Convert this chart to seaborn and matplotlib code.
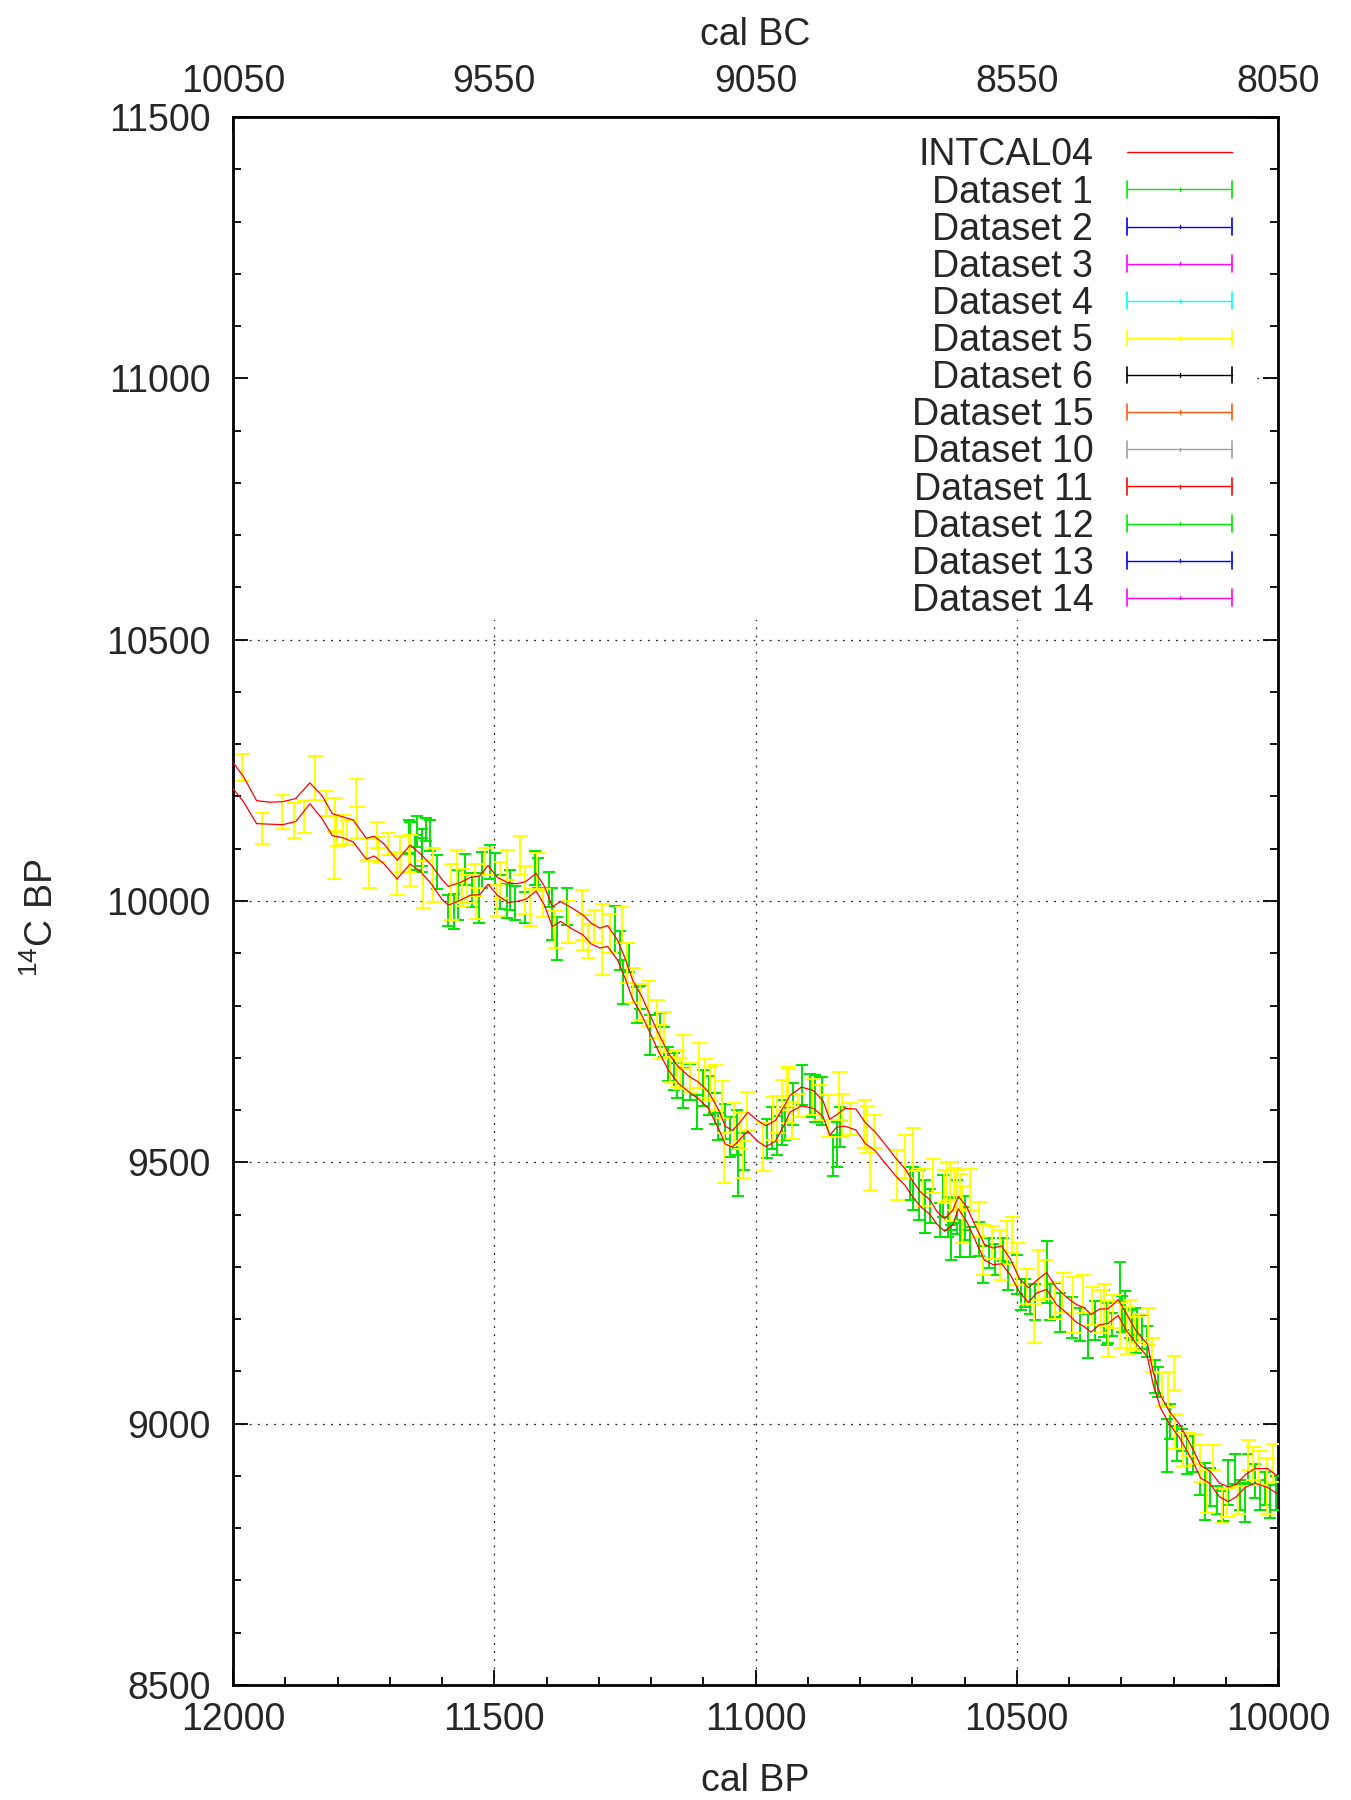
import numpy as np
import matplotlib
matplotlib.use("Agg")
import matplotlib.pyplot as plt
import seaborn as sns
from matplotlib.lines import Line2D
from matplotlib.legend_handler import HandlerBase
from matplotlib.patches import Rectangle
from matplotlib.ticker import MultipleLocator, FixedLocator, FormatStrFormatter

# ---------------- data ----------------
intcal_bp = [12000, 11980, 11955, 11930, 11905, 11880, 11853, 11830, 11810, 11790,
             11770, 11745, 11730, 11712, 11686, 11661, 11640, 11620, 11600, 11588,
             11566, 11546, 11528, 11512, 11494, 11474, 11458, 11440, 11420, 11404,
             11389, 11373, 11352, 11330, 11315, 11298, 11283, 11264, 11250, 11235,
             11218, 11202, 11186, 11167, 11148, 11128, 11110, 11090, 11071, 11058,
             11044, 11030, 11015, 10996, 10980, 10962, 10945, 10934, 10912, 10889,
             10871, 10858, 10845, 10829, 10808, 10790, 10771, 10750, 10731, 10714,
             10700, 10685, 10666, 10653, 10638, 10622, 10612, 10596, 10580, 10562,
             10545, 10529, 10512, 10495, 10478, 10462, 10443, 10424, 10405, 10386,
             10370, 10358, 10342, 10325, 10306, 10290, 10272, 10250, 10239, 10225,
             10207, 10188, 10165, 10148, 10130, 10112, 10095, 10080, 10063, 10044,
             10020, 10000]
intcal_c14 = [10240, 10214, 10170, 10168, 10168, 10174, 10206, 10180, 10146, 10141,
              10134, 10100, 10105, 10091, 10060, 10089, 10072, 10050, 10022, 10010,
              10018, 10028, 10030, 10050, 10028, 10016, 10016, 10020, 10036, 10010,
              9970, 9980, 9967, 9954, 9938, 9929, 9933, 9906, 9872, 9830,
              9800, 9765, 9730, 9693, 9667, 9650, 9638, 9619, 9583, 9552,
              9545, 9560, 9578, 9560, 9550, 9560, 9590, 9612, 9626, 9620,
              9603, 9567, 9579, 9586, 9582, 9556, 9540, 9514, 9490, 9472,
              9450, 9430, 9414, 9394, 9380, 9395, 9423, 9401, 9366, 9328,
              9320, 9323, 9299, 9265, 9246, 9262, 9273, 9244, 9227, 9211,
              9203, 9192, 9204, 9206, 9222, 9194, 9166, 9140, 9087, 9042,
              9010, 8985, 8943, 8908, 8897, 8873, 8865, 8872, 8890, 8900,
              8896, 8882]
intcal_err = [25, 24, 22, 21, 22, 22, 20, 22, 21, 20,
              21, 20, 19, 19, 18, 18, 17, 18, 19, 18,
              17, 17, 18, 18, 17, 19, 17, 17, 17, 18,
              19, 19, 20, 19, 20, 19, 20, 19, 19, 18,
              18, 17, 17, 16, 16, 15, 16, 16, 18, 17,
              16, 16, 18, 20, 20, 20, 18, 16, 18, 17,
              15, 15, 12, 17, 20, 20, 18, 18, 17, 16,
              15, 14, 14, 12, 12, 14, 12, 14, 14, 15,
              16, 17, 15, 13, 14, 12, 16, 16, 15, 17,
              18, 17, 15, 14, 15, 16, 12, 12, 12, 12,
              12, 13, 12, 12, 12, 13, 14, 12, 12, 14,
              18, 17]

ds1_bp = [11661, 11648, 11639, 11630, 11664, 11652, 11639, 11623, 11610, 11588,
          11578, 11569, 11556, 11543, 11530, 11524, 11508, 11499, 11489, 11476,
          11470, 11460, 11441, 11422, 11416, 11396, 11390, 11380, 11360,
          11269, 11259, 11253, 11243, 11227, 11221, 11202, 11183, 11176, 11167,
          11157, 11151, 11138, 11125, 11113, 11100, 11090, 11077, 11071, 11058,
          11049, 11036, 11033, 11023, 10978, 10969, 10950,
          10959, 10944, 10928, 10912, 10896, 10886, 10873, 10851, 10845, 10838,
          10704, 10698, 10688, 10675, 10666, 10647, 10628, 10615, 10599,
          10641, 10631, 10625, 10615, 10609, 10599, 10590, 10573, 10564, 10554,
          10541, 10526, 10516, 10500, 10491, 10484, 10475, 10465, 10443, 10436,
          10427, 10417, 10395, 10379, 10363, 10350, 10328, 10318, 10302, 10299,
          10280, 10271,
          10334, 10325, 10293, 10283, 10270, 10261, 10251, 10235, 10229, 10213,
          10207, 10194, 10184, 10175, 10162, 10149, 10140, 10130, 10117, 10105,
          10095, 10082, 10073, 10063, 10057, 10044, 10034, 10025, 10015, 10003]
ds1_c14 = [10122, 10133, 10102, 10137, 10122, 10093, 10088, 10125, 10055, 9982,
           9980, 10012, 10060, 10021, 10005, 10059, 10075, 10061, 10017, 10000,
           10021, 9996, 9988, 10063, 10053, 10022, 9975, 9929, 9990,
           9945, 9905, 9845, 9892, 9801, 9816, 9744, 9753, 9730, 9688,
           9674, 9657, 9642, 9654, 9596, 9642, 9628, 9603, 9568, 9578,
           9549, 9557, 9481, 9521, 9545, 9566, 9576,
           9551, 9574, 9612, 9648, 9628, 9623, 9618, 9513, 9535, 9568,
           9460, 9450, 9438, 9415, 9416, 9390, 9402, 9397, 9383,
           9436, 9396, 9347, 9425, 9354, 9403, 9348, 9353, 9304, 9327,
           9314, 9333, 9281, 9286, 9247, 9250, 9238, 9233, 9290, 9233,
           9237, 9213, 9203, 9190, 9167, 9197, 9190, 9189, 9270, 9210,
           9190, 9172,
           9210, 9195, 9216, 9190, 9195, 9175, 9157, 9090, 9080, 8958,
           9004, 8962, 8969, 8940, 8944, 8893, 8870, 8879, 8854, 8842,
           8888, 8913, 8863, 8849, 8913, 8890, 8863, 8876, 8851, 8867]
ds1_err = [30, 30, 35, 22, 33, 33, 32, 30, 33, 30,
           33, 48, 30, 33, 48, 35, 32, 30, 33, 32,
           38, 32, 30, 32, 29, 33, 49, 41, 35,
           45, 37, 43, 27, 35, 22, 38, 32, 29, 33,
           35, 33, 38, 35, 33, 35, 37, 29, 26, 33,
           38, 43, 46, 35, 37, 40, 43,
           37, 32, 40, 38, 41, 45, 46, 39, 43, 38,
           32, 41, 48, 51, 32, 32, 32, 35, 32,
           40, 38, 33, 41, 35, 33, 29, 33, 35, 29,
           30, 22, 26, 37, 29, 27, 29, 35, 60, 35,
           32, 37, 40, 32, 42, 37, 40, 22, 40, 35,
           29, 37,
           45, 40, 37, 27, 26, 33, 30, 32, 29, 50,
           33, 33, 21, 37, 37, 30, 55, 37, 26, 29,
           43, 29, 29, 37, 29, 32, 29, 32, 32, 32]

ds5_bp = [11983, 11944, 11907, 11884, 11864, 11843, 11823, 11805, 11802, 11806,
          11789, 11782, 11765, 11763, 11744, 11739, 11725, 11722, 11703, 11687,
          11680, 11661, 11636,
          11664, 11617, 11582, 11572, 11562, 11553, 11537, 11535, 11518, 11495,
          11489, 11476, 11451, 11441, 11432, 11419, 11406, 11384, 11359, 11333,
          11330, 11320,
          11310, 11294, 11278, 11256, 11246, 11234, 11221, 11205, 11189, 11183,
          11176, 11164, 11151, 11144, 11138, 11125, 11109, 11097, 11087, 11077,
          11065, 11061, 11042, 11030, 11024, 11017, 10985, 10959, 10940,
          10966, 10950, 10937, 10931, 10918, 10892, 10876, 10861, 10841, 10835,
          10819, 10793, 10787, 10781, 10774, 10730, 10714, 10698, 10679, 10660,
          10640, 10628, 10615, 10605,
          10634, 10621, 10609, 10590, 10573, 10564, 10548, 10532, 10519, 10510,
          10500, 10481, 10468, 10459, 10446, 10427, 10411, 10392, 10373, 10357,
          10338, 10325, 10315, 10290, 10274,
          10334, 10302, 10284, 10267, 10248, 10242, 10223, 10210, 10200, 10197,
          10181, 10172, 10159, 10149, 10136, 10124, 10108, 10098, 10076, 10057,
          10047, 10037, 10021, 10009]
ds5_c14 = [10256, 10139, 10170, 10154, 10161, 10235, 10187, 10165, 10133, 10088,
           10136, 10132, 10206, 10150, 10098, 10050, 10126, 10099, 10109, 10053,
           10090, 10077, 10031,
           10090, 10050, 10017, 10047, 10026, 10023, 10040, 9995, 10075, 10001,
           10040, 10069, 10087, 10021, 9988, 10056, 9996, 9945, 9960, 9973,
           9940, 9923,
           9951, 9927, 9938, 9954, 9881, 9838, 9807, 9803, 9774, 9730,
           9750, 9678, 9680, 9670, 9711, 9661, 9685, 9660, 9650, 9644,
           9620, 9508, 9574, 9560, 9505, 9597, 9529, 9591, 9645,
           9584, 9629, 9627, 9580, 9608, 9625, 9614, 9589, 9627, 9589,
           9583, 9573, 9563, 9487, 9559, 9476, 9511, 9524, 9452, 9474,
           9454, 9444, 9448, 9400,
           9463, 9449, 9443, 9447, 9391, 9332, 9347, 9323, 9346, 9361,
           9305, 9262, 9191, 9284, 9276, 9236, 9250, 9227, 9248, 9225,
           9214, 9181, 9215, 9179, 9172,
           9227, 9188, 9190, 9183, 9186, 9131, 9065, 9065, 9097, 8985,
           8951, 8960, 8951, 8924, 8870, 8936, 8843, 8849, 8854, 8940,
           8924, 8915, 8881, 8925]
ds5_err = [26, 30, 33, 34, 30, 42, 24, 33, 28, 45,
           29, 23, 27, 30, 20, 26, 25, 24, 21, 41,
           35, 49, 45,
           37, 51, 53, 51, 35, 27, 30, 30, 26, 30,
           35, 29, 37, 45, 35, 35, 27, 35, 40, 48,
           33, 33,
           32, 68, 38, 35, 38, 33, 35, 43, 37, 33,
           38, 24, 35, 30, 33, 29, 43, 37, 32, 43,
           35, 48, 40, 35, 35, 38, 46, 35, 38,
           41, 29, 52, 35, 22, 35, 33, 40, 46, 41,
           30, 46, 45, 40, 32, 48, 41, 41, 35, 33,
           32, 57, 37, 54,
           35, 40, 35, 41, 33, 48, 32, 48, 41, 35,
           40, 33, 37, 48, 38, 35, 38, 54, 37, 37,
           41, 53, 32, 45, 32,
           41, 43, 46, 26, 35, 33, 32, 33, 33, 33,
           32, 22, 29, 35, 41, 24, 33, 27, 27, 29,
           32, 33, 53, 37]

legend_labels = ["INTCAL04", "Dataset 1", "Dataset 2", "Dataset 3", "Dataset 4",
                 "Dataset 5", "Dataset 6", "Dataset 15", "Dataset 10", "Dataset 11",
                 "Dataset 12", "Dataset 13", "Dataset 14"]
legend_colors = ["#ff0000", "#00e600", "#0000ff", "#ff00ff", "#00ffff",
                 "#ffff00", "#000000", "#ff5a14", "#a0a0a0", "#ff0000",
                 "#00e600", "#0000ff", "#ff00ff"]

bottom_ticks = [12000, 11500, 11000, 10500, 10000]
top_ticks = [10050, 9550, 9050, 8550, 8050]
y_ticks = [8500, 9000, 9500, 10000, 10500, 11000, 11500]

# ---------------- style ----------------
sns.set_theme(style="ticks")
plt.rcParams['font.family'] = ['Liberation Sans', 'DejaVu Sans']
plt.rcParams['mathtext.fontset'] = 'custom'
plt.rcParams['mathtext.rm'] = 'Liberation Sans'
plt.rcParams['mathtext.it'] = 'Liberation Sans:italic'
plt.rcParams['mathtext.bf'] = 'Liberation Sans:bold'

FS = 27
GREEN = "#00e600"
YELLOW = "#ffff00"

fig = plt.figure(figsize=(13.51, 18), dpi=100)
fig.patch.set_facecolor("white")
rect = [0.1725, 0.0639, 0.7735, 0.8711]

# grid-only axes behind
gax = fig.add_axes(rect, zorder=0)
ax = fig.add_axes(rect, zorder=1, sharex=gax, sharey=gax)
ax.patch.set_visible(False)

ax.set_xlim(12000, 10000)
ax.set_ylim(8500, 11500)
ax.xaxis.set_major_locator(FixedLocator(bottom_ticks))
ax.xaxis.set_minor_locator(MultipleLocator(100))
ax.yaxis.set_major_locator(FixedLocator(y_ticks))
ax.yaxis.set_minor_locator(MultipleLocator(100))
ax.xaxis.set_major_formatter(FormatStrFormatter('%d'))
ax.yaxis.set_major_formatter(FormatStrFormatter('%d'))

gax.set_facecolor("white")
gax.grid(True, which='major', color='#222222', lw=0.9, ls=(0, (1.5, 5)))
gax.tick_params(which='both', length=0, labelbottom=False, labelleft=False)
for s in gax.spines.values():
    s.set_visible(False)

# white panel behind the key (hides grid there)
ax.add_patch(Rectangle((0, 0.6794), 0.978, 0.3206, transform=ax.transAxes,
                       facecolor='white', edgecolor='none', zorder=0.2))

# data
ax.errorbar(ds1_bp, ds1_c14, yerr=ds1_err, fmt='none', ecolor=GREEN,
            elinewidth=1.4, capsize=4.3, capthick=1.4, zorder=3)
ax.errorbar(ds5_bp, ds5_c14, yerr=ds5_err, fmt='none', ecolor=YELLOW,
            elinewidth=1.4, capsize=5.4, capthick=1.4, zorder=4)
upper = np.array(intcal_c14) + np.array(intcal_err)
lower = np.array(intcal_c14) - np.array(intcal_err)
sns.lineplot(x=intcal_bp, y=upper, ax=ax, color='#ff0000', lw=0.9,
             estimator=None, sort=False, zorder=5, legend=False)
sns.lineplot(x=intcal_bp, y=lower, ax=ax, color='#ff0000', lw=0.9,
             estimator=None, sort=False, zorder=5, legend=False)

# axes cosmetics
for s in ax.spines.values():
    s.set_visible(True)
    s.set_linewidth(2)
    s.set_color('black')
ax.tick_params(which='both', direction='in', right=True, top=False,
               labelsize=FS, width=1.3, color='black')
ax.tick_params(which='major', length=11)
ax.tick_params(which='minor', length=6)
ax.tick_params(axis='x', pad=12)
ax.tick_params(axis='y', pad=16)

secax = ax.secondary_xaxis('top', functions=(lambda x: x - 1950, lambda x: x + 1950))
secax.xaxis.set_major_locator(FixedLocator(top_ticks))
secax.xaxis.set_minor_locator(FixedLocator(list(range(8050, 10051, 100))))
secax.xaxis.set_major_formatter(FormatStrFormatter('%d'))
secax.tick_params(which='both', direction='in', labelsize=FS, width=1.3, pad=12)
secax.tick_params(which='major', length=11)
secax.tick_params(which='minor', length=6)
secax.spines['top'].set_linewidth(2)

ax.set_xlabel('cal BP', fontsize=FS)
ax.xaxis.set_label_coords(0.5, -0.050)
secax.set_xlabel('cal BC', fontsize=FS, labelpad=14)
ax.set_ylabel('$^{14}$C BP', fontsize=FS)
ax.yaxis.set_label_coords(-0.1646, 0.489)


class CapBarHandler(HandlerBase):
    def create_artists(self, legend, orig_handle, xdescent, ydescent, width,
                       height, fontsize, trans):
        c = orig_handle.get_color()
        y = height / 2.0 - ydescent
        x0 = -xdescent
        x1 = x0 + width
        h = 12.0
        xm = 0.5 * (x0 + x1)
        arts = [Line2D([x0, x1], [y, y], color=c, lw=1.0),
                Line2D([x0, x0], [y - h / 2, y + h / 2], color=c, lw=1.2),
                Line2D([x1, x1], [y - h / 2, y + h / 2], color=c, lw=1.2),
                Line2D([xm, xm], [y - 1.2, y + 1.2], color=c, lw=1.0)]
        for a in arts:
            a.set_transform(trans)
        return arts


handles = [Line2D([], [], color=c, lw=1.0) for c in legend_colors]
hmap = {h: CapBarHandler() for h in handles[1:]}
leg = ax.legend(handles, legend_labels, loc='upper right',
                bbox_to_anchor=(0.956, 0.987), frameon=False, fontsize=FS,
                markerfirst=False, handlelength=2.8, handletextpad=0.9,
                labelspacing=0.03, borderpad=0, borderaxespad=0,
                handler_map=hmap)
leg.set_zorder(6)

fig.savefig("out.png", dpi=100, facecolor="white")
